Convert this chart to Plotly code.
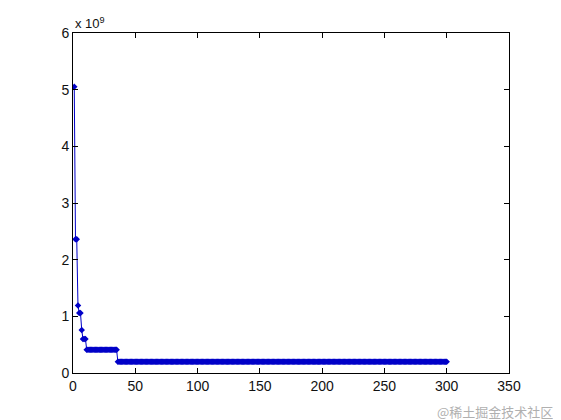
import plotly.graph_objects as go

# Run-length description of the staircase
levels = [5.05e9, 2.36e9, 1.19e9, 1.06e9, 0.76e9, 0.60e9, 0.41e9, 0.20e9]
counts = [1, 2, 1, 2, 1, 3, 25, 265]

y = []
for v, c in zip(levels, counts):
    y.extend([v] * c)
x = list(range(1, len(y) + 1))

x_ticks = [0, 50, 100, 150, 200, 250, 300, 350]
y_ticks = [0, 1e9, 2e9, 3e9, 4e9, 5e9, 6e9]
y_tick_text = ["0", "1", "2", "3", "4", "5", "6"]

fig = go.Figure()
fig.add_trace(go.Scatter(
    x=x, y=y, mode="lines+markers",
    line=dict(color="#0000c8", width=1),
    marker=dict(symbol="diamond", size=5, color="#0000c8"),
    showlegend=False,
))

axis_common = dict(
    showgrid=False, zeroline=False, showline=True, linecolor="black", linewidth=1,
    mirror="allticks", ticks="inside", ticklen=5, tickcolor="black",
    tickfont=dict(family="Liberation Sans, Arial, sans-serif", size=14, color="#111"),
)
fig.update_xaxes(range=[0, 350], tickvals=x_ticks, **axis_common)
fig.update_yaxes(range=[0, 6e9], tickvals=y_ticks, ticktext=y_tick_text, **axis_common)

fig.add_annotation(
    text="x 10<sup>9</sup>", xref="paper", yref="paper", x=0, y=1,
    xanchor="left", yanchor="bottom", showarrow=False, yshift=0,
    font=dict(family="Liberation Sans, Arial, sans-serif", size=13, color="#111"),
)
fig.add_annotation(
    text="@稀土掘金技术社区", xref="paper", yref="paper", x=1.1055, y=-0.079,
    xanchor="right", yanchor="top", showarrow=False,
    font=dict(family="Noto Sans CJK SC", size=13, color="#b0b0b0"),
)

fig.update_layout(
    width=553, height=412,
    margin=dict(l=65, r=52, t=25, b=47),
    paper_bgcolor="white", plot_bgcolor="white",
)
fig.write_html("out.html")
